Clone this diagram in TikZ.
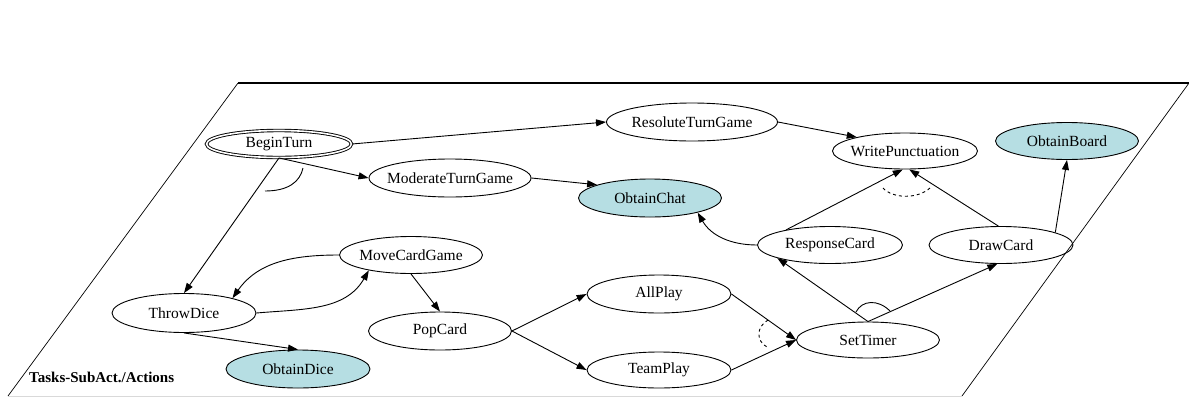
\documentclass[tikz,border=0pt]{standalone}
\usepackage{fontspec}
\setmainfont{Liberation Serif}
\usetikzlibrary{arrows.meta,shapes.geometric}
\definecolor{obtfill}{RGB}{182,222,227}
\newsavebox\evbox

\begin{document}
\begin{tikzpicture}[
  x=1pt, y=-1pt,
  ev/.style={draw,ellipse,line width=0.9pt,inner sep=0pt,minimum width=144pt,minimum height=37pt,
    font=\fontsize{15.5}{18}\selectfont,
    execute at begin node={\begin{lrbox}{\evbox}},
    execute at end node={\end{lrbox}\makebox[0pt]{\usebox\evbox}}},
  obt/.style={ev,fill=obtfill},
  link/.style={->,line width=0.9pt},
  >={Triangle[length=10pt,width=7pt]}
]
\useasboundingbox (0,0) rectangle (1189,397);

% plane
\draw[line width=1.3pt] (238,83) -- (1189,83);
\draw[line width=0.7pt] (8,396) -- (238,83);
\draw[line width=0.7pt] (1189,83) -- (962,396);
\draw[black!15,line width=0.8pt] (8,396) -- (962,396);
\node[font=\bfseries\fontsize{15}{18}\selectfont,anchor=west,inner sep=0pt] (plane) at (29,377) {Tasks-SubAct./Actions};

% tasks
\node[ev,double,double distance=1.6pt,minimum width=145pt,minimum height=27pt] (begin) at (279,144) {BeginTurn};
\node[ev,minimum width=171pt,minimum height=38pt] (resolute) at (692,122) {ResoluteTurnGame};
\node[ev,minimum width=162pt,minimum height=38pt] (moderate) at (450,178) {ModerateTurnGame};
\node[obt,minimum width=143pt,minimum height=38pt] (chat) at (650,198) {ObtainChat};
\node[ev,minimum width=145pt,minimum height=36pt] (punct) at (905,151) {WritePunctuation};
\node[obt,minimum width=143pt] (board) at (1067,141) {ObtainBoard};
\node[ev,minimum width=145pt] (resp) at (830,245) {ResponseCard};
\node[ev] (drawcard) at (1001,245) {DrawCard};
\node[ev,minimum width=143pt,minimum height=36pt] (timer) at (868,340) {SetTimer};
\node[ev,minimum height=38pt] (allplay) at (659,294) {AllPlay};
\node[ev,minimum height=36pt] (teamplay) at (659,370) {TeamPlay};
\node[ev,minimum width=143pt,minimum height=38pt] (pop) at (440,331) {PopCard};
\node[ev,minimum width=143pt] (move) at (411,255) {MoveCardGame};
\node[ev,minimum height=39pt] (dice) at (184,313) {ThrowDice};
\node[obt,minimum height=38pt] (obdice) at (298,369) {ObtainDice};

% links
\draw[link] (begin.east) -- (resolute.west);
\draw[link] (begin.south) -- (moderate.west);
\draw[link] (begin.south) -- (dice.north);
\draw[link] (moderate.east) -- (chat.166);
\draw[link] (resolute.east) -- (punct.164);
\draw[link] (resp.161) -- (punct.-97);
\draw[link] (drawcard.98) -- (punct.-77);
\draw[link] (drawcard.13) -- (board.south);
\draw[link] (resp.west) to[out=180,in=-60] (chat.-17);
\draw[link] (timer.north) -- (resp.-166);
\draw[link] (timer.north) -- (drawcard.-101);
\draw[link] (allplay.east) -- (timer.west);
\draw[link] (teamplay.east) -- (timer.west);
\draw[link] (pop.east) -- (allplay.west);
\draw[link] (pop.east) -- (teamplay.west);
\draw[link] (move.south) -- (pop.north);
\draw[link] (move.west) to[out=180,in=55] (dice.17);
\draw[link] (dice.east) to[out=5,in=-120] (move.-160);
\draw[link] (dice.south) -- (obdice.north);

% and / or marks
\draw[line width=0.9pt] (265,191) .. controls (288,191) and (300,182) .. (303,168);
\draw[line width=0.9pt] (856,312) .. controls (862,300) and (878,299) .. (890,311);
\draw[line width=0.9pt,dashed] (883,188) .. controls (893,199) and (918,199) .. (930,188);
\draw[line width=0.9pt,dashed] (768,320) .. controls (756,327) and (756,341) .. (767,347);
\end{tikzpicture}
\end{document}
